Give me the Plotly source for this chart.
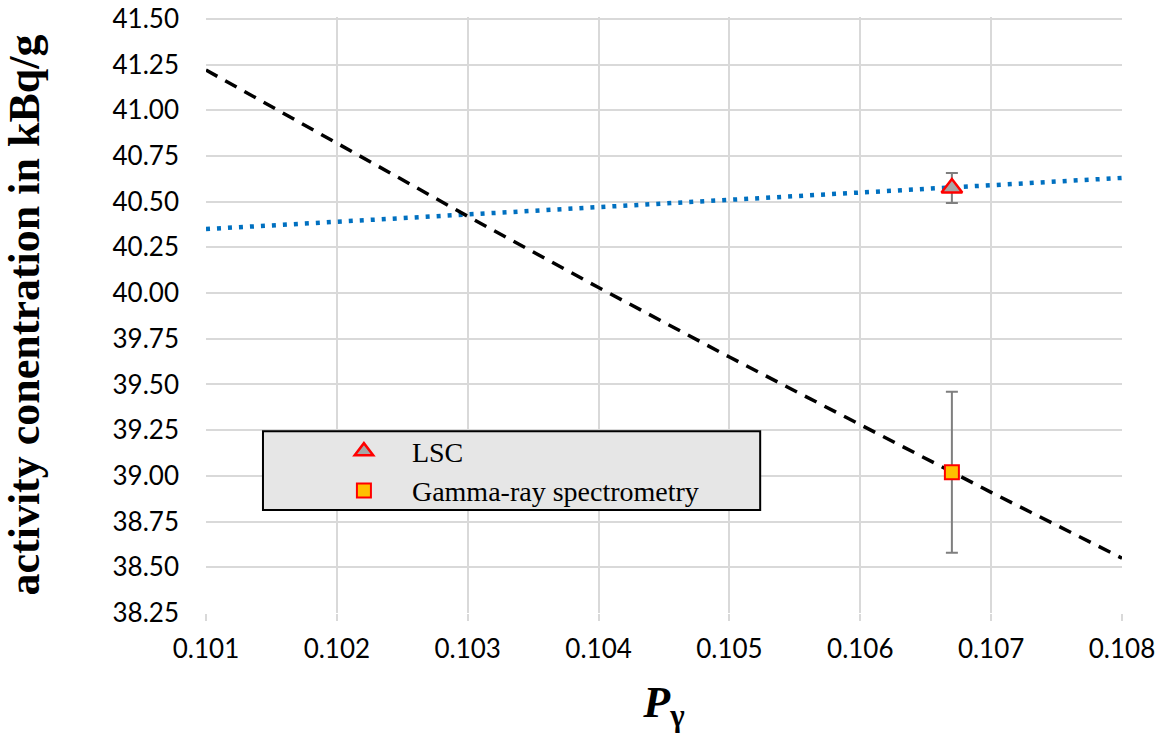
import plotly.graph_objects as go

# ---- data ----
p_gamma = [0.101, 0.102, 0.103, 0.104, 0.105, 0.106, 0.107, 0.108]
gamma_curve = [41.22, 40.82, 40.42, 40.03, 39.65, 39.28, 38.91, 38.55]
lsc_line = [40.35, 40.39, 40.43, 40.47, 40.51, 40.55, 40.59, 40.63]

lsc_x = [0.1067]
lsc_y = [40.575]
lsc_err = [0.082]

grs_x = [0.1067]
grs_y = [39.02]
grs_err = [0.44]

x_ticks = [0.101, 0.102, 0.103, 0.104, 0.105, 0.106, 0.107, 0.108]
y_ticks = [38.25, 38.50, 38.75, 39.00, 39.25, 39.50, 39.75, 40.00, 40.25,
           40.50, 40.75, 41.00, 41.25, 41.50]

fig = go.Figure()

fig.add_trace(go.Scatter(
    x=p_gamma, y=lsc_line, mode="lines", showlegend=False,
    line=dict(color="#0070C0", width=4.5, dash="4px,7px"), hoverinfo="skip"))
fig.add_trace(go.Scatter(
    x=p_gamma, y=gamma_curve, mode="lines", showlegend=False,
    line=dict(color="black", width=3.5, dash="13px,9px"), hoverinfo="skip"))

fig.add_trace(go.Scatter(
    x=lsc_x, y=lsc_y, mode="markers", name="LSC",
    marker=dict(symbol="triangle-up", size=18, color="#A6A6A6",
                line=dict(color="#FF0000", width=2.5)),
    error_y=dict(type="data", array=lsc_err, color="#7F7F7F", thickness=2, width=6)))
fig.add_trace(go.Scatter(
    x=grs_x, y=grs_y, mode="markers", name="Gamma-ray spectrometry",
    marker=dict(symbol="square", size=14, color="#FFC000",
                line=dict(color="#FF0000", width=2)),
    error_y=dict(type="data", array=grs_err, color="#7F7F7F", thickness=2, width=6)))

# legend box
fig.add_shape(type="rect", xref="paper", yref="paper",
              x0=0.0622, x1=0.605, y0=0.173, y1=0.305,
              fillcolor="#E6E6E6", line=dict(color="black", width=2), layer="above")

fig.update_layout(
    width=1163, height=742,
    margin=dict(l=206, r=41, t=17, b=129),
    paper_bgcolor="white", plot_bgcolor="white",
    legend=dict(x=0.120, y=0.313, xanchor="left", yanchor="top",
                bgcolor="rgba(0,0,0,0)", borderwidth=0,
                font=dict(family="Liberation Serif", size=28, color="black"),
                itemwidth=86, tracegroupgap=0),
    xaxis=dict(range=[0.101, 0.108], tickvals=x_ticks,
               ticktext=[f"{v:.3f}" for v in x_ticks],
               showgrid=True, gridcolor="#D9D9D9", gridwidth=2,
               zeroline=False, showline=False, automargin=False,
               ticks="outside", ticklen=7, tickcolor="#D9D9D9", tickwidth=2,
               ticklabelstandoff=6, ticklabeloverflow="allow",
               tickfont=dict(family="Lato", size=26, color="black"),
               title=dict(text="<b><i>P</i></b><sub><b>γ</b></sub>",
                          font=dict(family="Liberation Serif", size=44, color="black"),
                          standoff=22)),
    yaxis=dict(range=[38.25, 41.51], tickvals=y_ticks,
               ticktext=[f"{v:.2f}" for v in y_ticks],
               showgrid=True, gridcolor="#D9D9D9", gridwidth=2,
               zeroline=False, showline=False, ticks="", automargin=False,
               ticklabelstandoff=26, ticklabeloverflow="allow",
               tickfont=dict(family="Lato", size=26, color="black"),
               title=dict(text="<b>activity conentration in kBq/g</b>",
                          font=dict(family="Liberation Serif", size=44, color="black"),
                          standoff=90)),
)

# remove the default 8px page margin so the figure fills the window exactly
fig.write_html("out.html", config={"displayModeBar": False},
               post_script="document.body.style.margin='0';document.body.style.overflow='hidden';")
